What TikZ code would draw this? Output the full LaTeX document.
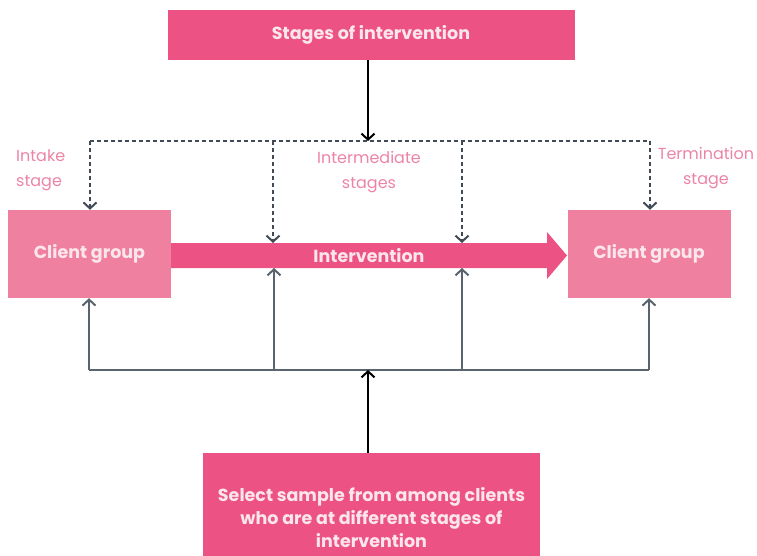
\documentclass[tikz,border=0pt]{standalone}
\usepackage{fontspec}
\setmainfont{Poppins}
\usepackage{tikz}
\usetikzlibrary{arrows,arrows.meta,positioning}

\definecolor{hotpink}{HTML}{EC5284}
\definecolor{clientpink}{HTML}{F0809F}
\definecolor{labelpink}{HTML}{EC84A5}
\definecolor{boxtext}{HTML}{FCE6EE}
\definecolor{dashgray}{HTML}{414B56}
\definecolor{linegray}{HTML}{5A646E}

\tikzset{
  darkbox/.style={fill=hotpink,text=boxtext,font=\fontsize{17.5}{23}\selectfont\bfseries,inner sep=0pt,align=center},
  clientbox/.style={fill=clientpink,text=boxtext,font=\fontsize{17.5}{20}\selectfont\bfseries,inner sep=0pt,
    minimum width=163pt,minimum height=88pt},
  stagelabel/.style={text=labelpink,font=\fontsize{16}{25}\selectfont,inner sep=0pt},
  tip/.style={-{Straight Barb[length=6pt,width=13pt,line width=2pt]}},
  dsh/.style={dashgray,line width=1.8pt,dash pattern=on 4pt off 3pt,tip},
  sld/.style={linegray,line width=1.8pt,tip},
}

\begin{document}
\begin{tikzpicture}[x=1pt,y=-1pt]
    \useasboundingbox (0,0) rectangle (757,556);

    \node[darkbox,minimum width=407pt,minimum height=50pt] (st) at (371,35) {Stages of intervention};
    \node[clientbox] (cl) at (89.5,254) {Client group};
    \node[clientbox] (cr) at (649,254) {Client group};
    % box runs off the bottom edge
    \node[darkbox,minimum width=337pt,minimum height=130pt] (sel) at (371.5,518)
        {Select sample from among clients\\who are at different stages of\\intervention};

    % intervention arrow
    \fill[hotpink] (171,243) -- (547,243) -- (547,232) -- (567,255.5)
        -- (547,279) -- (547,268) -- (171,268) -- cycle;
    \node[text=boxtext,font=\fontsize{17.5}{20}\selectfont\bfseries,inner sep=0pt] (iv) at (369,255.5) {Intervention};

    \node[stagelabel,align=left,anchor=west] (lin) at (16,170) {Intake\\stage};
    \node[stagelabel,align=center] (lmid) at (369,172) {Intermediate\\stages};
    \node[stagelabel,align=center] (lout) at (706,168) {Termination\\stage};

    % dashed stage lines
    \coordinate (dtop) at (368,141);
    \coordinate (d1) at (90,141);
    \coordinate (d2) at (273,141);
    \coordinate (d3) at (462,141);
    \coordinate (d4) at (650,141);
    \coordinate (b2t) at (273,243);
    \coordinate (b3t) at (462,243);
    \draw[dashgray,line width=1.8pt,dash pattern=on 4pt off 3pt] (d1) -- (d4);
    \draw[dsh] (d1) -- (cl.north -| d1);
    \draw[dsh] (d2) -- (b2t);
    \draw[dsh] (d3) -- (b3t);
    \draw[dsh] (d4) -- (cr.north -| d4);
    \draw[black,line width=1.6pt,tip] (st.south -| dtop) -- (dtop);

    % solid sampling lines
    \coordinate (sbot) at (368,370);
    \coordinate (s1) at (89,370);
    \coordinate (s2) at (274,370);
    \coordinate (s3) at (462,370);
    \coordinate (s4) at (649,370);
    \coordinate (b2b) at (274,268);
    \coordinate (b3b) at (462,268);
    \draw[linegray,line width=1.8pt] (s1) -- (s4);
    \draw[sld] (s1) -- (cl.south -| s1);
    \draw[sld] (s2) -- (b2b);
    \draw[sld] (s3) -- (b3b);
    \draw[sld] (s4) -- (cr.south -| s4);
    \draw[black,line width=1.6pt,tip] (sel.north -| sbot) -- (sbot);
\end{tikzpicture}
\end{document}
